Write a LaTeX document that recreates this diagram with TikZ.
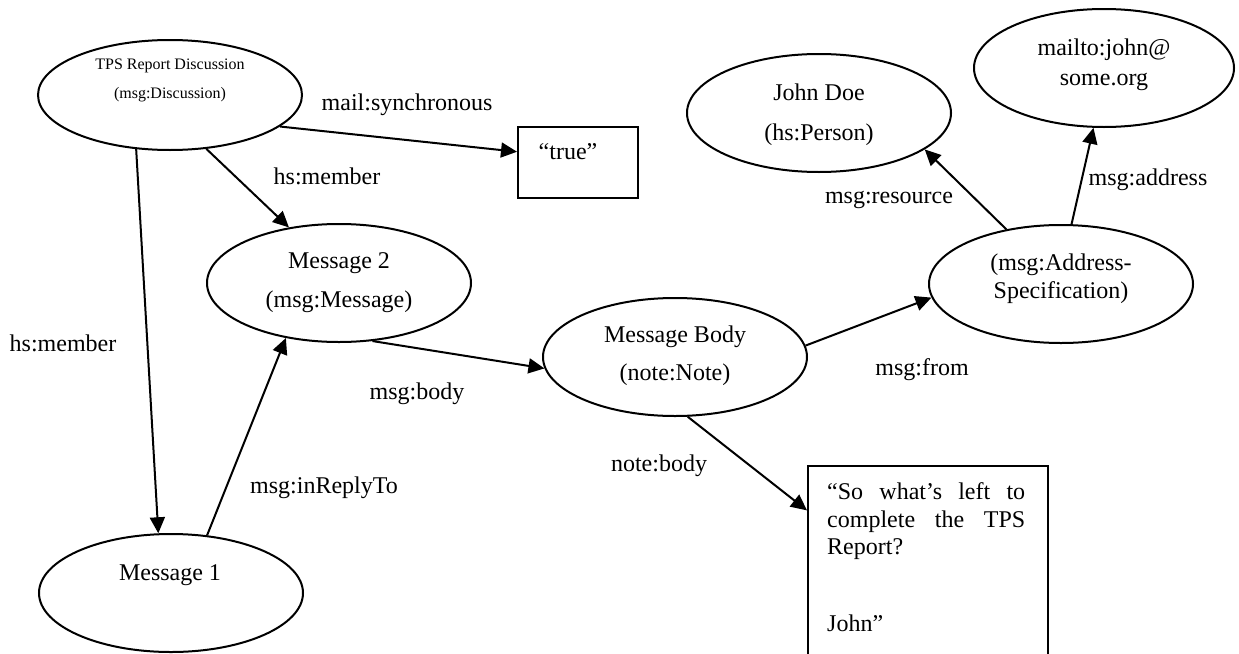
\documentclass[tikz,border=0pt]{standalone}
\usepackage{fontspec}
\setmainfont{Liberation Serif}
\usetikzlibrary{arrows.meta,shapes.geometric}
\begin{document}
\begin{tikzpicture}[x=1pt,y=-1pt,
  ell/.style={draw, line width=2pt, ellipse, minimum width=264pt, minimum height=118pt, inner sep=0pt},
  boxnode/.style={draw, line width=2pt, inner sep=0pt},
  txt/.style={font=\fontsize{24}{28}\selectfont, inner sep=0pt, align=center},
  lbl/.style={font=\fontsize{24}{28}\selectfont, inner sep=0pt},
  arr/.style={line width=2pt, -{Triangle[length=16pt,width=15pt]}}]
\clip (0,0) rectangle (1239,653);
\fill[white] (0,0) rectangle (1239,653);
% ellipses
\node[ell, minimum height=110pt] (tps) at (170,95) {};
\node[ell] (m2) at (339,283) {};
\node[ell] (m1) at (171,593) {};
\node[ell] (mb) at (675,357) {};
\node[ell] (addr) at (1061,284) {};
\node[ell] (john) at (819,113) {};
\node[ell, minimum width=260pt] (mailto) at (1104,68) {};
% boxes
\node[boxnode, minimum width=120pt, minimum height=71pt] (true) at (578,162.5) {};
\node[boxnode, anchor=north west, minimum width=240pt, minimum height=240pt] (note) at (807,465) {};
% texts in shapes
\node[txt, font=\fontsize{16}{29}\selectfont] (tpsT) at (170,80.5) {TPS Report Discussion\\(msg:Discussion)};
\node[txt, font=\fontsize{24}{39}\selectfont] (m2T) at (339,282.5) {Message 2\\(msg:Message)};
\node[txt] (m1T) at (170,575) {Message 1};
\node[txt, font=\fontsize{24}{38}\selectfont] (mbT) at (675,356) {Message Body\\(note:Note)};
\node[txt, font=\fontsize{24}{28}\selectfont] (addrT) at (1061,279) {(msg:Address-\\Specification)};
\node[txt, font=\fontsize{24}{40}\selectfont] (johnT) at (819,115) {John Doe\\(hs:Person)};
\node[txt, font=\fontsize{24}{30}\selectfont] (mailtoT) at (1104,65) {mailto:john@\\some.org};
\node[txt] (trueT) at (568,152) {“true”};
\node[anchor=north west, inner sep=0pt, align=left, font=\fontsize{24}{27.5}\selectfont] (noteT) at (827,482.5)
  {\hbox to 198pt{“So\hfill what’s\hfill left\hfill to}\\
   \hbox to 198pt{complete\hfill the\hfill TPS}\\
   Report?\\[49.5pt]
   John”};
% connectors
\draw[arr] (tps.-16) -- (true.170);
\draw[arr] (tps.-56) -- (m2.132);
\draw[arr] (tps.-122) -- (m1.102);
\draw[arr] (m1.58) -- (m2.-134);
\draw[arr] (m2.-60) -- (mb.185);
\draw[arr] (mb.-78) -- (note.148);
\draw[arr] (mb.5) -- (addr.186);
\draw[arr] (addr.135) -- (john.-19);
\draw[arr] (addr.80) -- (mailto.-100);
% labels
\node[lbl] (l1) at (407,105) {mail:synchronous};
\node[lbl] (l2) at (327,176) {hs:member};
\node[lbl] (l3) at (63,343) {hs:member};
\node[lbl] (l4) at (324,488) {msg:inReplyTo};
\node[lbl] (l5) at (417,394) {msg:body};
\node[lbl] (l6) at (659,466) {note:body};
\node[lbl] (l7) at (922,370) {msg:from};
\node[lbl] (l8) at (889,200) {msg:resource};
\node[lbl] (l9) at (1148,180) {msg:address};
\end{tikzpicture}
\end{document}
